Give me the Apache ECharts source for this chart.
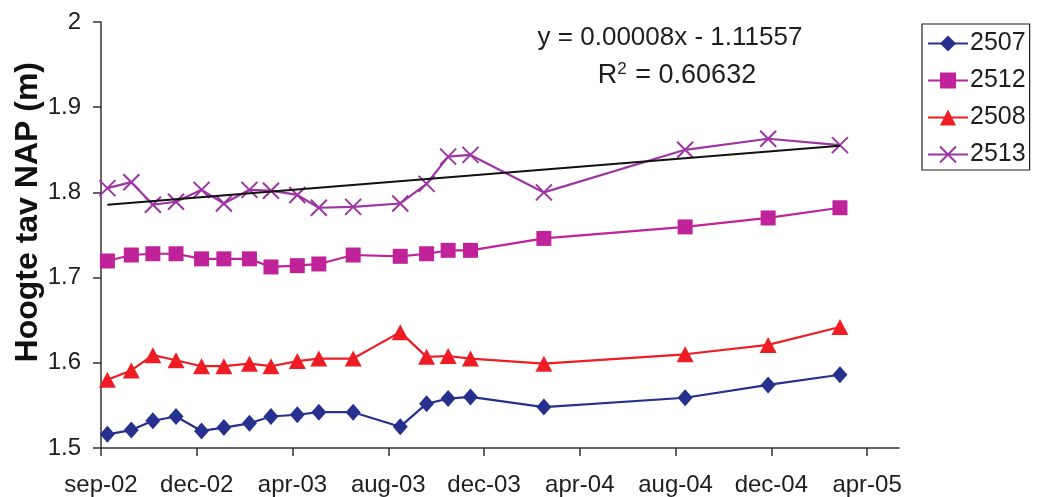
<!DOCTYPE html>
<html>
<head>
<meta charset="utf-8">
<title>Hoogte tav NAP</title>
<script src="https://cdn.jsdelivr.net/npm/echarts@6/dist/echarts.min.js"></script>
<style>
  html, body { margin: 0; padding: 0; background: #fff; }
  #chart { width: 1037px; height: 497px; }
</style>
</head>
<body>
<div id="chart"></div>
<script>
// Measurement dates (shared by all four gauges)
const dates = ['2002-09-09', '2002-10-09', '2002-11-05', '2002-12-04', '2003-01-05',
  '2003-02-02', '2003-03-06', '2003-04-02', '2003-05-05', '2003-06-01', '2003-07-14',
  '2003-09-11', '2003-10-14', '2003-11-10', '2003-12-08', '2004-03-09', '2004-09-02',
  '2004-12-15', '2005-03-15'];

// Water level relative to NAP (m) per gauge
const s2507 = [1.516, 1.521, 1.532, 1.537, 1.520, 1.524, 1.529, 1.537, 1.539, 1.542,
  1.542, 1.525, 1.552, 1.558, 1.560, 1.548, 1.559, 1.574, 1.586];
const s2512 = [1.7195, 1.7265, 1.728, 1.728, 1.722, 1.722, 1.722, 1.7125, 1.714, 1.716,
  1.7265, 1.725, 1.728, 1.732, 1.732, 1.746, 1.7595, 1.770, 1.782];
const s2508 = [1.580, 1.591, 1.609, 1.603, 1.596, 1.596, 1.599, 1.596, 1.602, 1.605,
  1.605, 1.636, 1.607, 1.608, 1.605, 1.599, 1.610, 1.621, 1.642];
const s2513 = [1.805, 1.812, 1.7855, 1.789, 1.803, 1.787, 1.803, 1.802, 1.797, 1.782,
  1.783, 1.787, 1.810, 1.842, 1.844, 1.800, 1.850, 1.863, 1.8555];

const seriesNames = ['2507', '2512', '2508', '2513'];

// Date axis in spreadsheet day numbers (days since 1899-12-30)
const xMin = 37500, xMax = 38500, xStep = 120;
const tickLabels = ['sep-02', 'dec-02', 'apr-03', 'aug-03', 'dec-03',
  'apr-04', 'aug-04', 'dec-04', 'apr-05'];
const tickDays = tickLabels.map((_, i) => xMin + i * xStep);

// Linear trend equation as printed on the chart
const eqLine = 'y = 0.00008x - 1.11557';
const r2Value = '0.60632';

function serial(iso) {
  const p = iso.split('-').map(Number);
  return Date.UTC(p[0], p[1] - 1, p[2]) / 86400000 + 25569;
}
const xs = dates.map(serial);
const pairs = vals => vals.map((v, i) => [xs[i], v]);

// Least-squares trend through gauge 2513
function trend(vals) {
  const n = vals.length;
  const mx = xs.reduce((a, b) => a + b, 0) / n;
  const my = vals.reduce((a, b) => a + b, 0) / n;
  let sxy = 0, sxx = 0;
  for (let i = 0; i < n; i++) {
    sxy += (xs[i] - mx) * (vals[i] - my);
    sxx += (xs[i] - mx) * (xs[i] - mx);
  }
  const b = sxy / sxx, a = my - b * mx;
  const x0 = xs[0], x1 = xs[n - 1];
  return [[x0, a + b * x0], [x1, a + b * x1]];
}

const FONT = '"Liberation Sans", Arial, sans-serif';
const colors = ['#26308e', '#c0229a', '#ee1d25', '#9d35a2'];
const crossPath = 'path://M0,0 L10,10 M10,0 L0,10';

const chart = echarts.init(document.getElementById('chart'), null, { renderer: 'canvas' });

function lineSeries(idx, vals, symbol, size, extra) {
  return Object.assign({
    name: seriesNames[idx],
    type: 'line',
    data: pairs(vals),
    symbol: symbol,
    symbolSize: size,
    showAllSymbol: true,
    animation: false,
    lineStyle: { color: colors[idx], width: 2.2 },
    itemStyle: { color: colors[idx] },
    emphasis: { disabled: true },
    z: 3
  }, extra || {});
}

chart.setOption({
  animation: false,
  backgroundColor: '#fff',
  textStyle: { fontFamily: FONT },
  grid: { left: 101, right: 138, top: 22, bottom: 47, containLabel: false },
  xAxis: {
    type: 'value',
    min: xMin,
    max: xMax,
    interval: xStep,
    axisLine: { show: true, lineStyle: { color: '#333', width: 1.5 } },
    axisTick: { show: true, length: 8, customValues: tickDays, lineStyle: { color: '#333', width: 1.5 } },
    axisLabel: {
      customValues: tickDays,
      margin: 25,
      color: '#1e1e1e',
      fontSize: 24,
      fontFamily: FONT,
      formatter: v => {
        const k = tickDays.indexOf(v);
        return k >= 0 ? tickLabels[k] : '';
      }
    },
    splitLine: { show: false }
  },
  yAxis: {
    type: 'value',
    min: 1.5,
    max: 2,
    interval: 0.1,
    axisLine: { show: true, lineStyle: { color: '#333', width: 1.5 } },
    axisTick: { show: true, length: 8, lineStyle: { color: '#333', width: 1.5 } },
    axisLabel: {
      margin: 20,
      color: '#1e1e1e',
      fontSize: 24,
      fontFamily: FONT,
      formatter: v => (Math.abs(v - Math.round(v)) < 1e-9 ? String(Math.round(v)) : v.toFixed(1))
    },
    splitLine: { show: false }
  },
  legend: {
    data: seriesNames,
    orient: 'vertical',
    left: 922,
    top: 24,
    padding: [7, 4, 3, 5],
    itemGap: 12,
    itemWidth: 40,
    itemHeight: 20,
    borderColor: '#222',
    borderWidth: 1.2,
    borderRadius: 0,
    backgroundColor: '#fff',
    selectedMode: false,
    textStyle: { fontSize: 25, color: '#1e1e1e', fontFamily: FONT, padding: [0, 0, 0, -3], lineHeight: 24 }
  },
  graphic: [
    {
      type: 'text',
      left: 12,
      top: 62,
      rotation: Math.PI / 2,
      style: {
        text: 'Hoogte tav NAP (m)',
        font: 'bold 32px ' + FONT,
        fill: '#111'
      }
    },
    {
      type: 'text',
      x: 670,
      y: 38,
      style: {
        text: eqLine,
        font: '26px ' + FONT,
        fill: '#1e1e1e',
        align: 'center',
        verticalAlign: 'middle'
      },
      z: 10
    },
    {
      type: 'text',
      x: 677,
      y: 76,
      style: {
        text: 'R{s|2} = ' + r2Value,
        font: '27px ' + FONT,
        fill: '#1e1e1e',
        align: 'center',
        verticalAlign: 'middle',
        rich: {
          s: { fontSize: 17, fontFamily: FONT, verticalAlign: 'top', padding: [0, 1, 14, 0], fill: '#1e1e1e' }
        }
      },
      z: 10
    }
  ],
  series: [
    lineSeries(0, s2507, 'diamond', [15, 17]),
    lineSeries(1, s2512, 'rect', 15),
    lineSeries(2, s2508, 'triangle', [17, 16]),
    lineSeries(3, s2513, crossPath, 16, {
      itemStyle: { color: 'rgba(0,0,0,0)', borderColor: colors[3], borderWidth: 2 }
    }),
    {
      name: 'trend',
      type: 'line',
      data: trend(s2513),
      symbol: 'none',
      lineStyle: { color: '#111', width: 2 },
      silent: true,
      animation: false,
      z: 5
    }
  ]
});
</script>
</body>
</html>
